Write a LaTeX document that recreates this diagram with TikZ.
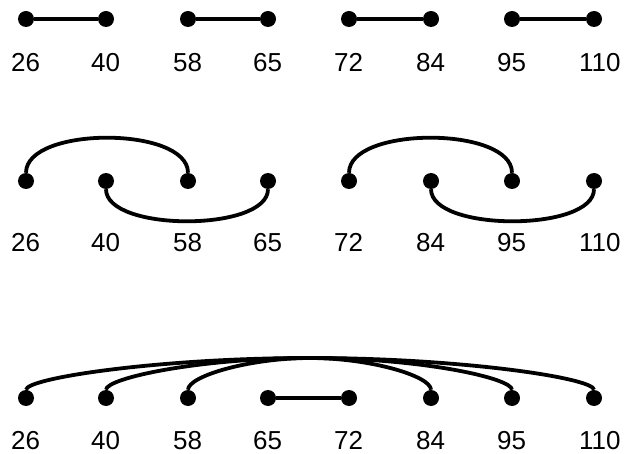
\documentclass[tikz,border=0pt]{standalone}
\usepackage{fontspec}
\setmainfont{Liberation Sans}

\begin{document}
\begin{tikzpicture}[x=1pt, y=-1pt,
  dot/.style={circle, fill=black, inner sep=0pt, minimum size=16pt},
  lbl/.style={anchor=base west, inner sep=0pt, font=\fontsize{26}{26}\selectfont},
  link/.style={line width=3.8pt, black}]

\useasboundingbox (0,0) rectangle (626,454);

% top row: four separate pairs
\foreach \i/\x/\t in {1/26/26, 2/106/40, 3/188/58, 4/268/65, 5/349/72, 6/431/84, 7/512/95, 8/594/110} {
  \node[dot] (a\i) at (\x,19) {};
  \node[lbl] (la\i) at (\x-15,72) {\t};
}

\draw[link] (a1) -- (a2);
\draw[link] (a3) -- (a4);
\draw[link] (a5) -- (a6);
\draw[link] (a7) -- (a8);

% middle row: crossing arcs
\foreach \i/\x/\t in {1/26/26, 2/106/40, 3/188/58, 4/268/65, 5/349/72, 6/431/84, 7/512/95, 8/594/110} {
  \node[dot] (b\i) at (\x,181) {};
  \node[lbl] (lb\i) at (\x-15,252) {\t};
}

\draw[link] (b1) .. controls +(0,-55) and +(0,-55) .. (b3);
\draw[link] (b2) .. controls +(0,51) and +(0,51) .. (b4);
\draw[link] (b5) .. controls +(0,-55) and +(0,-55) .. (b7);
\draw[link] (b6) .. controls +(0,51) and +(0,51) .. (b8);

% bottom row: nested arcs
\foreach \i/\x/\t in {1/26/26, 2/106/40, 3/188/58, 4/268/65, 5/349/72, 6/431/84, 7/512/95, 8/594/110} {
  \node[dot] (c\i) at (\x,398) {};
  \node[lbl] (lc\i) at (\x-15,449) {\t};
}

\coordinate (top) at (310,358);

\draw[link] (c1) .. controls +(0,-20) and +(-150,0) .. (top)
                 .. controls +(150,0) and +(0,-20) .. (c8);
\draw[link] (c2) .. controls +(0,-20) and +(-110,0) .. (top)
                 .. controls +(110,0) and +(0,-20) .. (c7);
\draw[link] (c3) .. controls +(0,-22) and +(-60,0) .. (top)
                 .. controls +(60,0) and +(0,-22) .. (c6);
\draw[link] (c4) -- (c5);

\end{tikzpicture}
\end{document}
